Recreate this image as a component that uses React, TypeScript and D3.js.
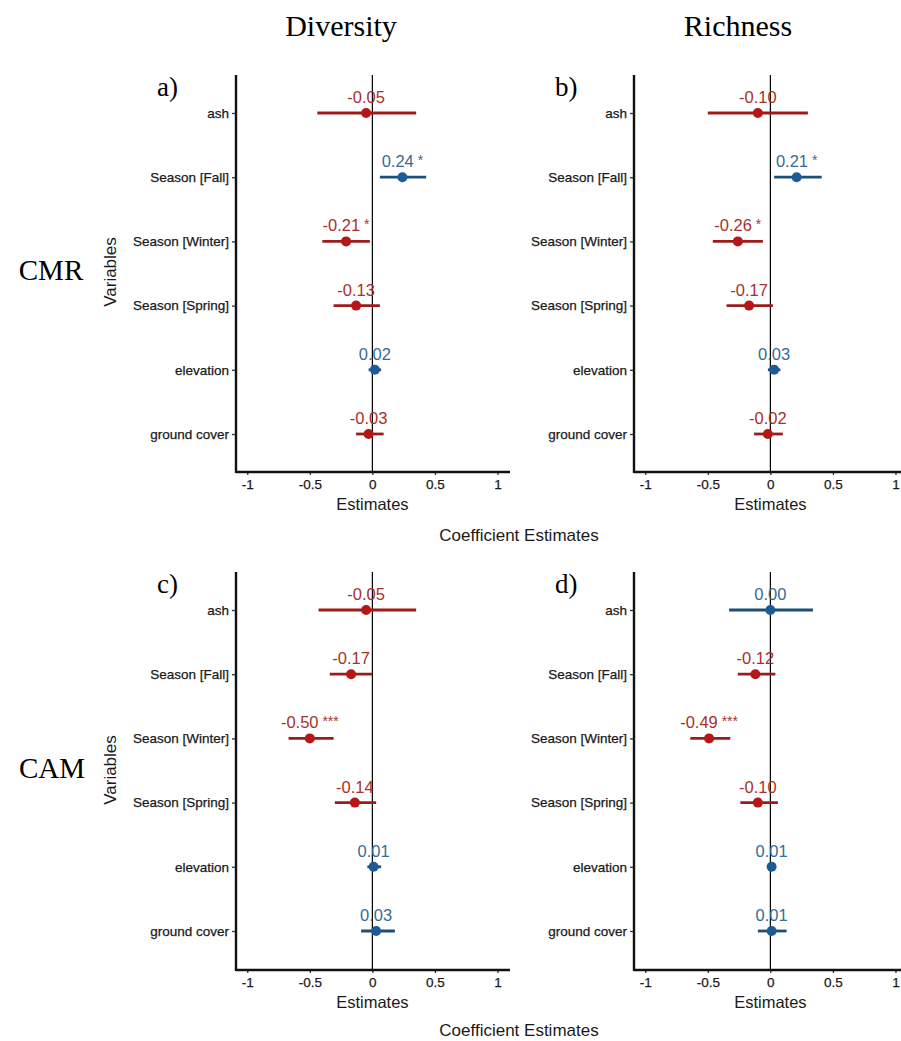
import React, { useEffect, useRef } from 'react'
import * as d3 from 'd3'

const variables = ['ash', 'Season [Fall]', 'Season [Winter]', 'Season [Spring]', 'elevation', 'ground cover']
const xTicks = [-1, -0.5, 0, 0.5, 1]

// estimate, lower CI, upper CI, significance stars
const diversityCMR = [-0.05, 0.24, -0.21, -0.13, 0.02, -0.03]
const diversityCMRLow = [-0.44, 0.06, -0.40, -0.31, -0.03, -0.13]
const diversityCMRHigh = [0.35, 0.43, -0.02, 0.06, 0.07, 0.09]
const diversityCMRStars = ['', '*', '*', '', '', '']

const richnessCMR = [-0.10, 0.21, -0.26, -0.17, 0.03, -0.02]
const richnessCMRLow = [-0.50, 0.03, -0.46, -0.35, -0.02, -0.13]
const richnessCMRHigh = [0.30, 0.41, -0.06, 0.02, 0.08, 0.10]
const richnessCMRStars = ['', '*', '*', '', '', '']

const diversityCAM = [-0.05, -0.17, -0.50, -0.14, 0.01, 0.03]
const diversityCAMLow = [-0.43, -0.34, -0.67, -0.30, -0.04, -0.09]
const diversityCAMHigh = [0.35, 0.00, -0.31, 0.03, 0.07, 0.18]
const diversityCAMStars = ['', '', '***', '', '', '']

const richnessCAM = [0.00, -0.12, -0.49, -0.10, 0.01, 0.01]
const richnessCAMLow = [-0.33, -0.26, -0.64, -0.24, -0.01, -0.10]
const richnessCAMHigh = [0.34, 0.04, -0.32, 0.06, 0.04, 0.13]
const richnessCAMStars = ['', '', '***', '', '', '']

const RED_LINE = '#9c1c1c'
const RED_DOT = '#b51717'
const RED_TEXT = '#a8302d'
const BLUE_LINE = '#1e4f78'
const BLUE_DOT = '#1c5b96'
const BLUE_TEXT = '#376b94'

export default function App() {
  const ref = useRef(null)

  useEffect(() => {
    const svg = d3.select(ref.current)
    svg.selectAll('*').remove()

    const sans = 'Arial, "Liberation Sans", sans-serif'
    const serif = '"Liberation Serif", "Times New Roman", serif'

    const panels = [
      { letter: 'a)', est: diversityCMR, lo: diversityCMRLow, hi: diversityCMRHigh, stars: diversityCMRStars, left: 236, top: 75, bottom: 472, first: 113, last: 434 },
      { letter: 'b)', est: richnessCMR, lo: richnessCMRLow, hi: richnessCMRHigh, stars: richnessCMRStars, left: 634, top: 75, bottom: 472, first: 113, last: 434 },
      { letter: 'c)', est: diversityCAM, lo: diversityCAMLow, hi: diversityCAMHigh, stars: diversityCAMStars, left: 236, top: 572, bottom: 970, first: 610, last: 931 },
      { letter: 'd)', est: richnessCAM, lo: richnessCAMLow, hi: richnessCAMHigh, stars: richnessCAMStars, left: 634, top: 572, bottom: 970, first: 610, last: 931 },
    ]

    panels.forEach(p => {
      const g = svg.append('g')
      const x = d3.scaleLinear().domain([-1.09, 1.1]).range([p.left, p.left + 274])
      const y = d3.scalePoint().domain(variables).range([p.first, p.last])

      // zero line
      g.append('line')
        .attr('x1', x(0)).attr('x2', x(0))
        .attr('y1', p.top).attr('y2', p.bottom)
        .attr('stroke', '#000').attr('stroke-width', 1.2)

      // y axis
      const yAxis = g.append('g')
        .attr('transform', `translate(${p.left},0)`)
        .call(d3.axisLeft(y).tickSize(4).tickPadding(3))
      yAxis.select('.domain').remove()
      yAxis.append('line')
        .attr('x1', 0).attr('x2', 0).attr('y1', p.top).attr('y2', p.bottom + 1)
        .attr('stroke', '#111').attr('stroke-width', 2.4)
      yAxis.selectAll('text').attr('font-family', sans).attr('font-size', 13.5)
        .attr('fill', '#1a1a1a').attr('stroke', '#1a1a1a').attr('stroke-width', 0.25)
      yAxis.selectAll('.tick line').attr('stroke', '#333').attr('stroke-width', 1.3)

      // x axis
      const xAxis = g.append('g')
        .attr('transform', `translate(0,${p.bottom})`)
        .call(d3.axisBottom(x).tickValues(xTicks).tickSize(3).tickPadding(4)
          .tickFormat(d => String(d)))
      xAxis.select('.domain').remove()
      xAxis.append('line')
        .attr('x1', p.left).attr('x2', p.left + 274)
        .attr('stroke', '#111').attr('stroke-width', 2.4)
      xAxis.selectAll('text').attr('font-family', sans).attr('font-size', 13.5)
        .attr('fill', '#1a1a1a').attr('stroke', '#1a1a1a').attr('stroke-width', 0.25)
      xAxis.selectAll('.tick line').attr('stroke', '#333').attr('stroke-width', 1.3)

      g.append('text')
        .attr('x', x(0)).attr('y', p.bottom + 38)
        .attr('text-anchor', 'middle')
        .attr('font-family', sans).attr('font-size', 16.5).attr('fill', '#1a1a1a')
        .text('Estimates')

      // panel letter
      g.append('text')
        .attr('x', p.left - 79).attr('y', p.top + 21)
        .attr('font-family', serif).attr('font-size', 27).attr('fill', '#000')
        .text(p.letter)

      const rows = variables.map((v, i) => ({ v, est: p.est[i], lo: p.lo[i], hi: p.hi[i], stars: p.stars[i] }))
      const pos = d => d.est >= 0

      g.selectAll('line.ci').data(rows).enter().append('line')
        .attr('class', 'ci')
        .attr('x1', d => x(d.lo)).attr('x2', d => x(d.hi))
        .attr('y1', d => y(d.v)).attr('y2', d => y(d.v))
        .attr('stroke', d => (pos(d) ? BLUE_LINE : RED_LINE)).attr('stroke-width', 2.8)

      g.selectAll('circle.pt').data(rows).enter().append('circle')
        .attr('class', 'pt')
        .attr('cx', d => x(d.est)).attr('cy', d => y(d.v))
        .attr('r', 5).attr('fill', d => (pos(d) ? BLUE_DOT : RED_DOT))

      const lbl = g.selectAll('text.val').data(rows).enter().append('text')
        .attr('class', 'val')
        .attr('x', d => x(d.est)).attr('y', d => y(d.v) - 10)
        .attr('text-anchor', 'middle')
        .attr('font-family', sans).attr('font-size', 16.5)
        .attr('fill', d => (pos(d) ? BLUE_TEXT : RED_TEXT))
      lbl.append('tspan').text(d => d.est.toFixed(2))
      lbl.filter(d => d.stars).append('tspan')
        .attr('font-size', 14).attr('dy', -2)
        .text(d => ' ' + d.stars)
    })

    // column titles
    svg.append('text').attr('x', 341).attr('y', 36).attr('text-anchor', 'middle')
      .attr('font-family', serif).attr('font-size', 30).text('Diversity')
    svg.append('text').attr('x', 738).attr('y', 36).attr('text-anchor', 'middle')
      .attr('font-family', serif).attr('font-size', 30).text('Richness')

    // row titles
    svg.append('text').attr('x', 51).attr('y', 280).attr('text-anchor', 'middle')
      .attr('font-family', serif).attr('font-size', 29).text('CMR')
    svg.append('text').attr('x', 52).attr('y', 778).attr('text-anchor', 'middle')
      .attr('font-family', serif).attr('font-size', 29).text('CAM')

    // Variables labels
    ;[272, 770].forEach(cy => {
      svg.append('text')
        .attr('transform', `translate(116,${cy}) rotate(-90)`)
        .attr('text-anchor', 'middle')
        .attr('font-family', sans).attr('font-size', 17).attr('fill', '#1a1a1a')
        .text('Variables')
    })

    // Coefficient Estimates
    ;[541, 1036].forEach(cy => {
      svg.append('text')
        .attr('x', 519).attr('y', cy)
        .attr('text-anchor', 'middle')
        .attr('font-family', sans).attr('font-size', 17).attr('fill', '#1a1a1a')
        .text('Coefficient Estimates')
    })
  }, [])

  return (
    <svg ref={ref} width={901} height={1041}
      style={{ position: 'absolute', left: 0, top: 0, background: '#fff' }} />
  )
}
